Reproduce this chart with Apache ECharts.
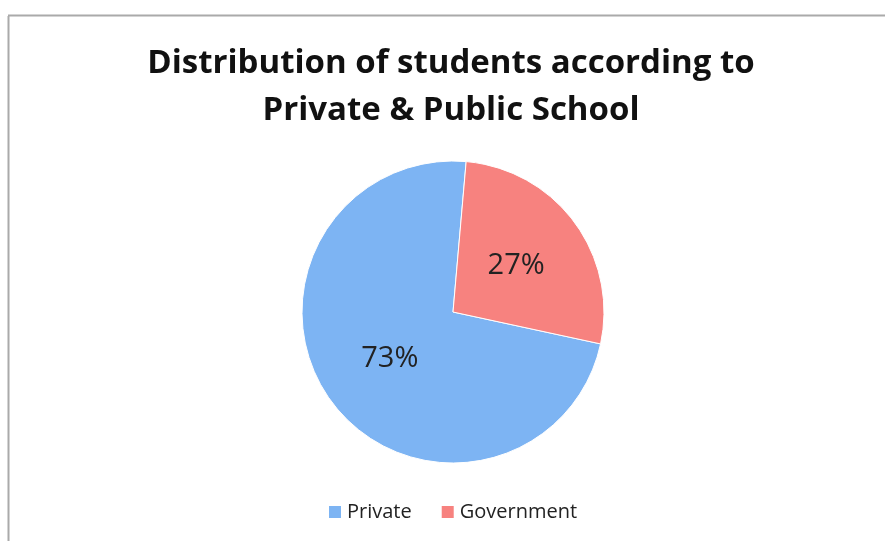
<!DOCTYPE html>
<html><head><meta charset="utf-8">
<script src="https://cdn.jsdelivr.net/npm/echarts@6/dist/echarts.min.js"></script>
<style>html,body{margin:0;padding:0;background:#fff}#c{width:885px;height:541px}</style>
</head><body><div id="c"></div>
<script>
const categories = ["Private", "Government"];
const values = [73, 27];
const colors = ["#7DB4F3", "#F7827F"];
const titleText = "Distribution of students according to\nPrivate & Public School";

const chart = echarts.init(document.getElementById('c'));
chart.setOption({
  backgroundColor: '#fff',
  animation: false,
  title: {
    text: titleText,
    left: 446, top: 35, textAlign: 'center',
    textStyle: { fontFamily: 'Open Sans', fontWeight: 'bold', fontSize: 33, lineHeight: 47, color: '#111' }
  },
  legend: {
    top: 502, left: 327, padding: 0,
    itemWidth: 14, itemHeight: 14, itemGap: 28, icon: 'rect',
    textStyle: { fontFamily: 'Open Sans', fontSize: 20, color: '#222' },
    data: categories
  },
  graphic: [
    { type: 'line', shape: { x1: 8.5, y1: 16, x2: 8.5, y2: 541 }, style: { stroke: '#aaa', lineWidth: 2 } },
    { type: 'line', shape: { x1: 8, y1: 15.5, x2: 885, y2: 15.5 }, style: { stroke: '#aaa', lineWidth: 2 } }
  ],
  series: [{
    type: 'pie',
    center: [453, 312],
    radius: [0, 151],
    startAngle: 85,
    clockwise: false,
    label: {
      position: 'inside', formatter: '{d}%',
      fontFamily: 'Open Sans', fontSize: 29, color: '#222'
    },
    labelLine: { show: false },
    itemStyle: { borderColor: '#fff', borderWidth: 1 },
    data: categories.map((c, i) => ({ name: c, value: values[i], itemStyle: { color: colors[i] } }))
  }]
});
</script></body></html>
